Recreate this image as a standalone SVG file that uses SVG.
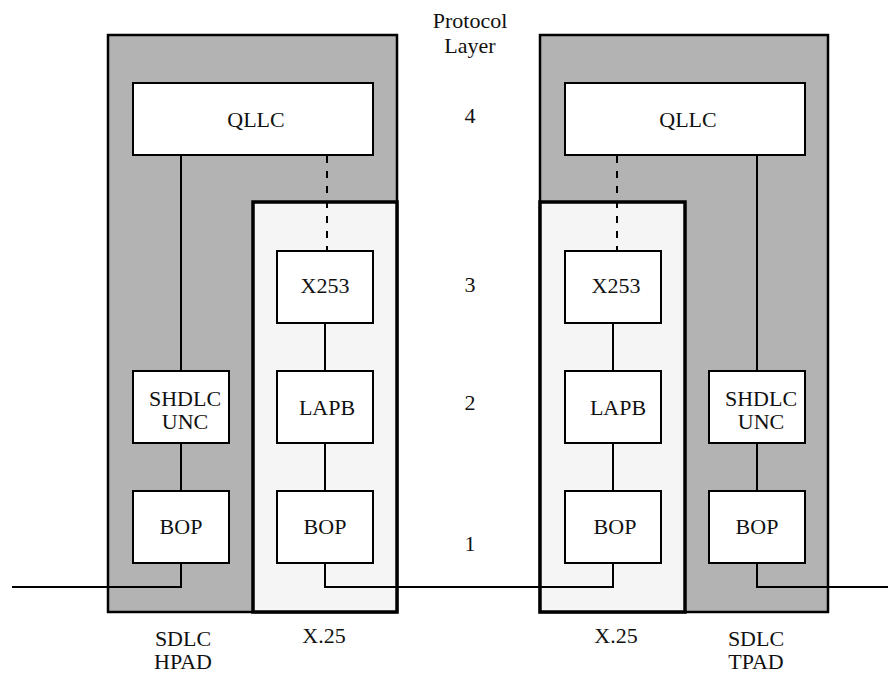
<svg xmlns="http://www.w3.org/2000/svg" width="889" height="674" viewBox="0 0 889 674">
<style>
text{font-family:'Liberation Serif','Times New Roman',Times,Tinos,serif;font-size:22px;fill:#111;text-anchor:middle}
.pad{fill:#b3b3b3;stroke:#000;stroke-width:2.5}
.x25{fill:#f5f5f5;stroke:#000;stroke-width:3.5}
.box{fill:#fff;stroke:#000;stroke-width:2}
.c{fill:none;stroke:#000;stroke-width:2}
.d{fill:none;stroke:#000;stroke-width:2;stroke-dasharray:7 8}
</style>
<rect width="889" height="674" fill="#fff"/>
<g id="hpad"><rect class="pad" x="108" y="35" width="289" height="577"/></g>
<g id="x25-left"><rect class="x25" x="253" y="202" width="144" height="410"/></g>
<g id="tpad"><rect class="pad" x="540" y="35" width="288" height="577"/></g>
<g id="x25-right"><rect class="x25" x="540" y="202" width="145" height="410"/></g>
<g id="connectors">
<path class="c" d="M181 155V371M181 443V491M181 563V587H12"/>
<path class="d" d="M327 156V251"/>
<path class="c" d="M325 323V371M325 443V491M325 563V587H613V563M613 491V443M613 371V323"/>
<path class="d" d="M617 156V251"/>
<path class="c" d="M757 155V371M757 443V491M757 563V587H888"/>
</g>
<g id="qllc-left"><rect class="box" x="133" y="83" width="240" height="72"/><text x="256" y="127">QLLC</text></g>
<g id="shdlc-left"><rect class="box" x="133" y="371" width="96" height="72"/><text x="185" y="406">SHDLC</text><text x="185" y="429">UNC</text></g>
<g id="bop-left1"><rect class="box" x="133" y="491" width="96" height="72"/><text x="181" y="534">BOP</text></g>
<g id="x253-left"><rect class="box" x="277" y="251" width="96" height="72"/><text x="325" y="293">X253</text></g>
<g id="lapb-left"><rect class="box" x="277" y="371" width="96" height="72"/><text x="327" y="415">LAPB</text></g>
<g id="bop-left2"><rect class="box" x="277" y="491" width="96" height="72"/><text x="325" y="534">BOP</text></g>
<g id="qllc-right"><rect class="box" x="565" y="83" width="240" height="72"/><text x="688" y="127">QLLC</text></g>
<g id="x253-right"><rect class="box" x="565" y="251" width="96" height="72"/><text x="616" y="293">X253</text></g>
<g id="lapb-right"><rect class="box" x="565" y="371" width="96" height="72"/><text x="618" y="415">LAPB</text></g>
<g id="bop-right1"><rect class="box" x="565" y="491" width="96" height="72"/><text x="615" y="534">BOP</text></g>
<g id="shdlc-right"><rect class="box" x="709" y="371" width="96" height="72"/><text x="761" y="406">SHDLC</text><text x="761" y="429">UNC</text></g>
<g id="bop-right2"><rect class="box" x="709" y="491" width="96" height="72"/><text x="757" y="534">BOP</text></g>
<g id="labels">
<text x="470" y="28">Protocol</text><text x="470" y="53">Layer</text>
<text x="470" y="123">4</text><text x="470" y="292">3</text><text x="470" y="410">2</text><text x="470" y="551">1</text>
<text x="183" y="646">SDLC</text><text x="183" y="669">HPAD</text>
<text x="324" y="643">X.25</text>
<text x="616" y="643">X.25</text>
<text x="756" y="646">SDLC</text><text x="756" y="669">TPAD</text>
</g>
</svg>
